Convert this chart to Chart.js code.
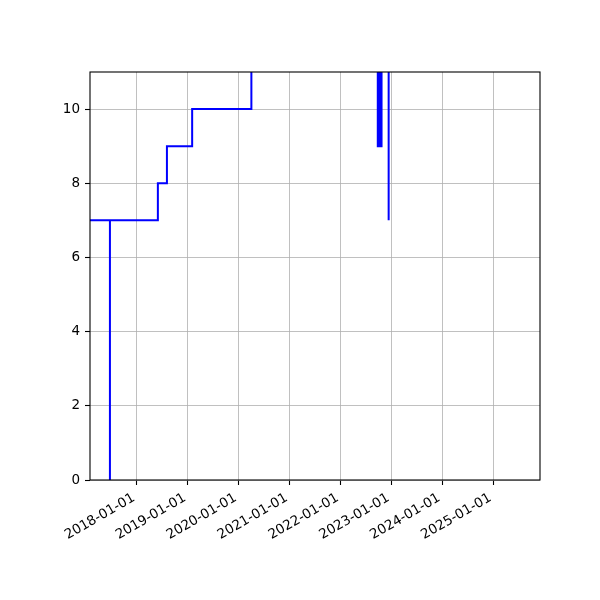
<!DOCTYPE html>
<html>
<head>
<meta charset="utf-8">
<script src="https://cdn.jsdelivr.net/npm/chart.js@4/dist/chart.umd.min.js"></script>
<style>
  body { margin: 0; background: #fff; }
  #wrap { width: 600px; height: 600px; }
</style>
</head>
<body>
<div id="wrap"><canvas id="stepChart"></canvas></div>
<script>
// step points: value holds from each date until the next one
const dates = [
    '2017-01-01', '2017-06-21', '2017-06-21', '2018-05-31', '2018-08-04', '2019-02-01', '2020-04-01',
    '2022-09-25', '2022-09-28', '2022-10-01', '2022-10-04', '2022-10-07', '2022-10-10',
    '2022-10-13', '2022-10-16', '2022-10-19', '2022-10-22', '2022-12-12'
];
const values = [
    7, 0, 7, 8, 9, 10, 12,
    9, 12, 9, 12, 9, 12,
    9, 12, 9, 12, 7
];
const xTickLabels = ['2018-01-01', '2019-01-01', '2020-01-01', '2021-01-01', '2022-01-01', '2023-01-01', '2024-01-01', '2025-01-01'];
const yTicks = [0, 2, 4, 6, 8, 10];
const xMin = '2017-01-29';
const xMax = '2025-12-02';
const yMax = 11;

const toMs = (d) => Date.parse(d + 'T00:00:00Z');

const frameBox = {
    id: 'frameBox',
    afterDraw: (chart) => {
        const { ctx, chartArea: a } = chart;
        ctx.save();
        ctx.strokeStyle = '#000';
        ctx.lineWidth = 1.1;
        ctx.strokeRect(a.left, a.top, a.right - a.left, a.bottom - a.top);
        ctx.restore();
    }
};

const font = { family: '"DejaVu Sans", sans-serif', size: 13.5 };

new Chart(
    document.getElementById('stepChart'),
    {
        type: 'line',
        data: {
            datasets: [
                {
                    data: dates.map((d, i) => ({ x: toMs(d), y: values[i] })),
                    borderColor: '#0000ff',
                    borderWidth: 2,
                    pointRadius: 0,
                    stepped: 'before',
                    fill: false,
                    clip: 0,
                },
            ]
        },
        options: {
            responsive: true,
            maintainAspectRatio: false,
            animation: false,
            layout: { padding: { left: 0, top: 72, right: 60, bottom: 0 } },
            plugins: { legend: { display: false }, tooltip: { enabled: false } },
            scales: {
                x: {
                    type: 'linear',
                    min: toMs(xMin),
                    max: toMs(xMax),
                    afterBuildTicks: (scale) => {
                        scale.ticks = xTickLabels.map(t => ({ value: toMs(t) }));
                    },
                    afterFit: (scale) => { scale.height = 120; },
                    ticks: {
                        autoSkip: false,
                        minRotation: 30,
                        maxRotation: 30,
                        padding: 5,
                        labelOffset: -3,
                        color: '#000',
                        font: font,
                        callback: (v) => new Date(v).toISOString().slice(0, 10),
                    },
                    grid: { color: '#b0b0b0', lineWidth: 0.8, tickColor: '#000', tickWidth: 1.1, tickLength: 5 },
                    border: { display: false },
                },
                y: {
                    min: 0,
                    max: yMax,
                    afterBuildTicks: (scale) => {
                        scale.ticks = yTicks.map(v => ({ value: v }));
                    },
                    afterFit: (scale) => { scale.width = 90; },
                    ticks: { padding: 5, color: '#000', font: font },
                    grid: { color: '#b0b0b0', lineWidth: 0.8, tickColor: '#000', tickWidth: 1.1, tickLength: 5 },
                    border: { display: false },
                }
            }
        },
        plugins: [frameBox]
    }
);
</script>
</body>
</html>
